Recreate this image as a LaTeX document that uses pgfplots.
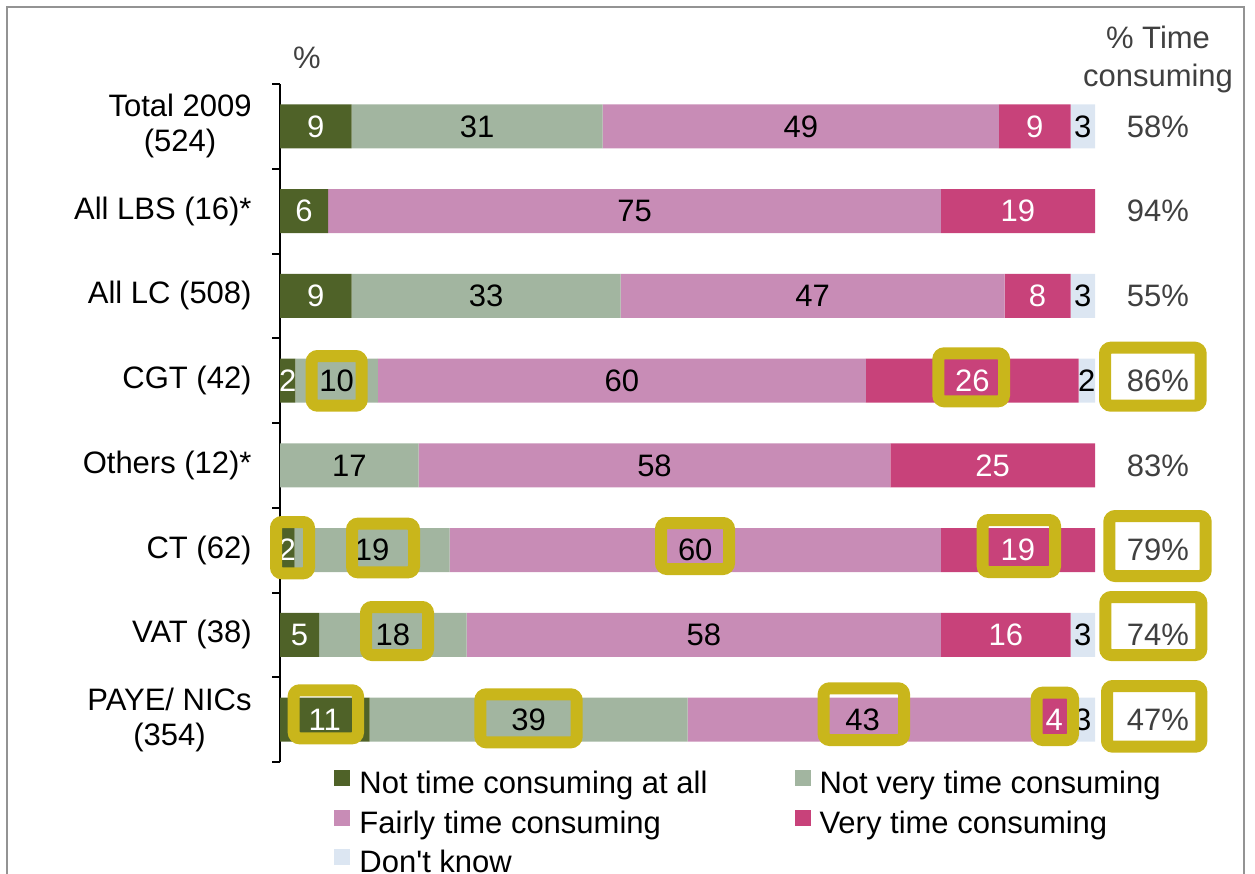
\documentclass[border=0pt]{standalone}
\usepackage{pgfplots}
\pgfplotsset{compat=1.18}
\usepackage{pgfplotstable}
\usepackage{fontspec}
\setmainfont{Liberation Sans}
\definecolor{cA}{RGB}{79,98,40}
\definecolor{cB}{RGB}{162,181,160}
\definecolor{cC}{RGB}{200,140,182}
\definecolor{cD}{RGB}{200,66,122}
\definecolor{cE}{RGB}{220,230,242}
\definecolor{hl}{RGB}{201,182,27}
\definecolor{tg}{RGB}{64,64,64}
\newcommand\F{\fontsize{15.5}{17.5}\selectfont}

\pgfplotstableread{
idx a b c d e
0 8.8 30.8 48.6 8.8 3.0
1 5.9 0 75.2 18.9 0
2 8.8 33.0 47.1 8.1 3.0
3 1.9 10.1 59.9 26.1 2.0
4 0 17.0 57.9 25.1 0
5 1.8 19.0 60.3 18.9 0
6 4.8 18.1 58.2 15.9 3.0
7 11.0 39.0 43.0 4.0 3.0
}\datatable

\begin{document}
\begin{tikzpicture}
\useasboundingbox (0,0) rectangle (627.5pt,-437pt);
\draw[gray!85, line width=0.8pt] (3.5pt,-445pt) -- (3.5pt,-3.5pt) -- (622pt,-3.5pt) -- (622pt,-445pt);
\begin{axis}[
  at={(140pt,-381pt)}, anchor=south west,
  scale only axis, width=407.5pt, height=339pt,
  xbar stacked, bar width=22pt,
  xmin=0, xmax=100, ymin=-0.5, ymax=7.5, y dir=reverse,
  axis x line=none, axis y line*=left,
  y axis line style={-, line width=1pt, black},
  ytick={0,...,7},
  yticklabels={{Total 2009\\(524)}, {All LBS (16)*}, {All LC (508)}, {CGT (42)}, {Others (12)*}, {CT (62)}, {VAT (38)}, {PAYE/ NICs\\(354)}},
  minor ytick={-0.5,0.5,...,7.5},
  major tick length=0pt, minor tick length=4pt, tick align=outside,
  minor tick style={black, line width=1pt},
  yticklabel style={align=center, font=\F, inner sep=0pt, xshift=-14pt},
  clip=false,
  /pgf/number format/assume math mode=true,
  point meta=explicit,
  nodes near coords={\pgfmathfloatifflags{\pgfplotspointmeta}{0}{}{\pgfmathprintnumber[fixed,precision=0,assume math mode=true]{\pgfplotspointmeta}}},
  every node near coord/.append style={anchor=center, font=\F},
  legend columns=2, legend cell align=left,
  legend style={draw=none, fill=none, font=\F, at={(axis cs:5.9,7.5)}, anchor=north west, yshift=-0.5pt,
    row sep=3pt, /tikz/every even column/.append style={column sep=41.5pt}},
  every axis plot post/.append style={draw=none, legend image code/.code={\fill[##1,draw=none] (0pt,-1pt) rectangle (8pt,7pt); \path (10.5pt,3pt);}},
]
\addplot[fill=cA, every node near coord/.append style={text=white}] table[x=a, y=idx, meta=a] {\datatable};
\addplot[fill=cB] table[x=b, y=idx, meta=b] {\datatable};
\addplot[fill=cC] table[x=c, y=idx, meta=c] {\datatable};
\addplot[fill=cD, every node near coord/.append style={text=white}] table[x=d, y=idx, meta=d] {\datatable};
\addplot[fill=cE] table[x=e, y=idx, meta=e] {\datatable};
\legend{Not time consuming at all, Not very time consuming, Fairly time consuming, Very time consuming, Don\textquotesingle t know}
\end{axis}
\begin{scope}[x=0.5pt,y=-0.5pt]
\node[font=\F, text=tg, align=center] at (1158,59) {\% Time\\[1.5pt]consuming};
\node[font=\F, text=tg] at (307,58) {\%};
\foreach \p [count=\i from 0] in {58,94,55,86,83,79,74,47}
  \node[font=\F, text=tg] at (1158,{126.4+84.75*\i}) {\p\%};
\begin{scope}[hl, line width=6pt, rounded corners=3pt]
\draw (311.7,356) rectangle (361.7,405.7);
\draw (938.3,353.3) rectangle (1004,401.3);
\draw (1105,347.7) rectangle (1200.7,405.7);
\draw (276,522) rectangle (309,573.3);
\draw (352,523.7) rectangle (414,572.3);
\draw (661,523) rectangle (729,569);
\draw (982.7,520) rectangle (1055,572);
\draw (1109.3,516) rectangle (1205.7,576);
\draw (366,607) rectangle (428,655);
\draw (1105.3,597) rectangle (1201.3,655);
\draw (293.7,690.3) rectangle (358,738.3);
\draw (480.3,694.3) rectangle (576.7,742.3);
\draw (823.7,688.3) rectangle (904,740);
\draw (1036.7,692.7) rectangle (1073,740);
\draw (1107,686) rectangle (1201.3,746.7);
\end{scope}
\end{scope}
\end{tikzpicture}
\end{document}
